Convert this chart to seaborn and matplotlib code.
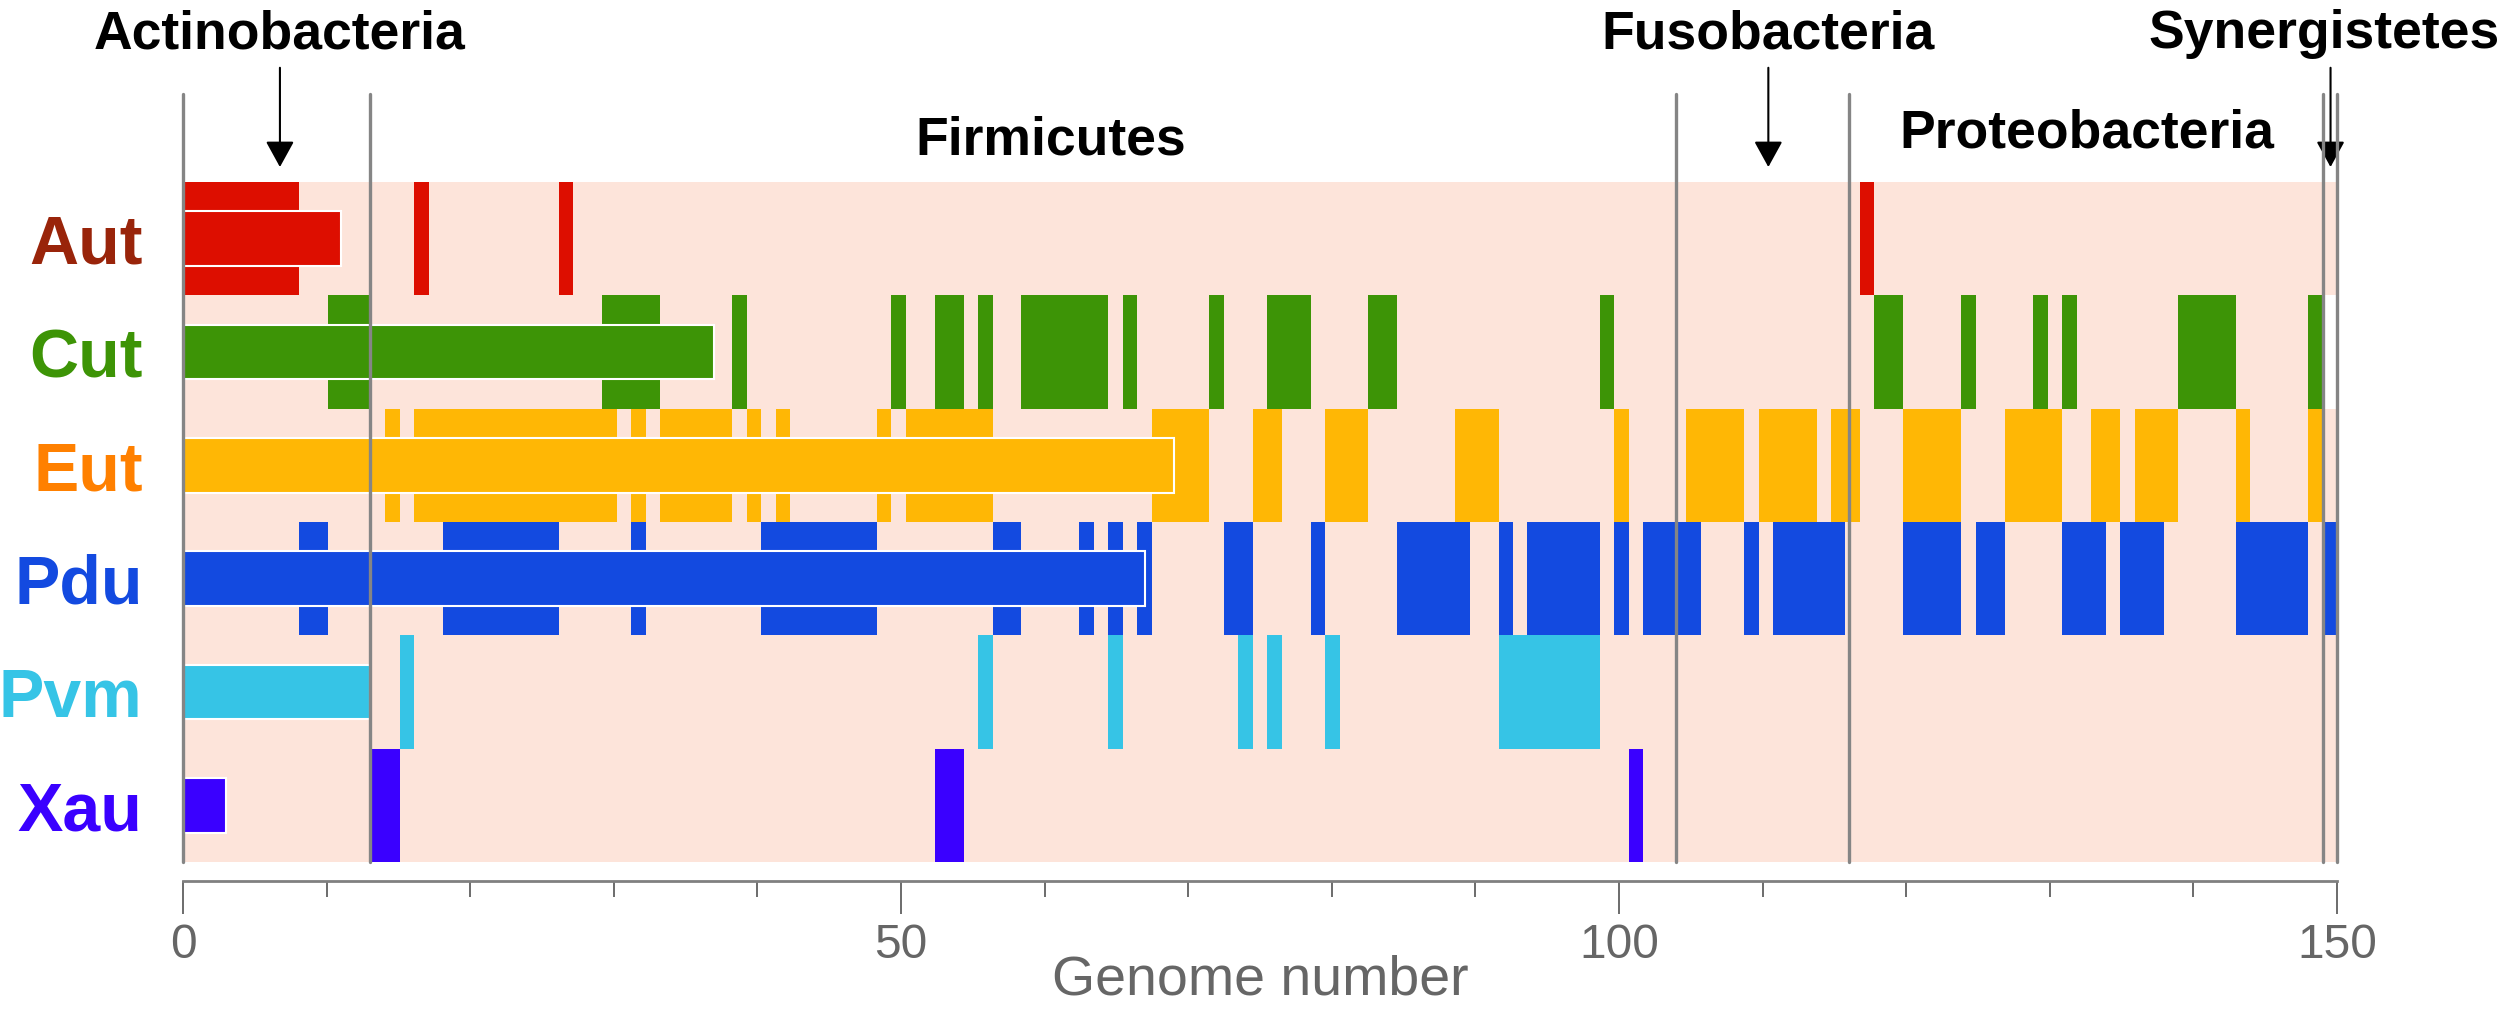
import matplotlib
matplotlib.use('Agg')
import numpy as np
import pandas as pd
import matplotlib.pyplot as plt
import seaborn as sns
from matplotlib.colors import ListedColormap
from matplotlib.ticker import MultipleLocator

# --- data ---------------------------------------------------------------
loci = ['Aut', 'Cut', 'Eut', 'Pdu', 'Pvm', 'Xau']
n_genomes = 149

# genome slots (0-based) where each locus is present
aut_genomes = [0, 1, 2, 3, 4, 5, 6, 7, 16, 26, 116]
cut_genomes = [10, 11, 12, 29, 30, 31, 32, 38, 49, 52, 53, 55, 58, 59, 60, 61,
               62, 63, 65, 71, 75, 76, 77, 82, 83, 98, 117, 118, 123, 128, 130,
               138, 139, 140, 141, 147]
eut_genomes = [14, 16, 17, 18, 19, 20, 21, 22, 23, 24, 25, 26, 27, 28, 29, 31,
               33, 34, 35, 36, 37, 39, 41, 48, 50, 51, 52, 53, 54, 55, 67, 68,
               69, 70, 74, 75, 79, 80, 81, 88, 89, 90, 99, 104, 105, 106, 107,
               109, 110, 111, 112, 114, 115, 119, 120, 121, 122, 126, 127, 128,
               129, 132, 133, 135, 136, 137, 142, 147]
pdu_genomes = [8, 9, 18, 19, 20, 21, 22, 23, 24, 25, 31, 40, 41, 42, 43, 44, 45,
               46, 47, 56, 57, 62, 64, 66, 72, 73, 78, 84, 85, 86, 87, 88, 91,
               93, 94, 95, 96, 97, 99, 101, 102, 103, 104, 108, 110, 111, 112,
               113, 114, 119, 120, 121, 122, 124, 125, 130, 131, 132, 134, 135,
               136, 142, 143, 144, 145, 146, 148]
pvm_genomes = [15, 55, 64, 73, 75, 79, 91, 92, 93, 94, 95, 96, 97]
xau_genomes = [13, 14, 52, 53, 100]
blank_cells = [('Cut', 148)]

# length of the outlined centre bar of each row (genome number axis)
core_len = [11, 37, 69, 67, 13, 3]

# phylum boundaries on the genome number axis
phylum_bounds = [0, 13, 104, 116, 149, 150]

bar_colors = ['#DD0E00', '#3D9406', '#FFB705', '#134AE0', '#36C4E6', '#3A00FF']
label_colors = ['#99240A', '#3D9406', '#FF8000', '#134AE0', '#36C4E6', '#3A00FF']
bg_color = '#FDE4DA'

# --- presence matrix ---------------------------------------------------
presence = [aut_genomes, cut_genomes, eut_genomes, pdu_genomes, pvm_genomes, xau_genomes]
mat = np.zeros((len(loci), n_genomes), dtype=int)
for i, g in enumerate(presence):
    mat[i, g] = i + 1
for name, g in blank_cells:
    mat[loci.index(name), g] = len(loci) + 1
df_presence = pd.DataFrame(mat, index=loci)

df_core = pd.DataFrame({'locus': loci, 'n': core_len})

sns.set_style('white')
plt.rcParams['font.family'] = ['Liberation Sans', 'DejaVu Sans']

fig = plt.figure(figsize=(25, 10.11), dpi=100)
rect = [183 / 2500, 149 / 1011, 2154 / 2500, 680 / 1011]
ax_hm = fig.add_axes(rect)
ax = fig.add_axes(rect, facecolor='none')

cmap = ListedColormap([bg_color] + bar_colors + ['white'])
sns.heatmap(df_presence, cmap=cmap, vmin=-0.5, vmax=len(loci) + 1.5, cbar=False,
            xticklabels=False, yticklabels=False, linewidths=0, ax=ax_hm)
ax_hm.axis('off')

# centre bars
sns.barplot(data=df_core, x='n', y='locus', hue='locus', palette=bar_colors,
            orient='h', width=0.48, saturation=1, edgecolor='white',
            linewidth=1.5, legend=False, ax=ax, zorder=3)
ax.set_xlim(0, 150)
ax.set_ylim(len(loci) - 0.5, -0.5)

# phylum boundaries
for b in phylum_bounds:
    ax.axvline(b, ymin=0, ymax=1.13, color='#858585', lw=2.4, clip_on=False, zorder=5)

# phylum names and arrows
trans = ax.get_xaxis_transform()
phyla = [('Actinobacteria', 6.75, 1.197), ('Firmicutes', 60.4, 1.040),
         ('Fusobacteria', 110.4, 1.197), ('Proteobacteria', 132.6, 1.05),
         ('Synergistetes', 149.1, 1.197)]
for name, xpos, ypos in phyla:
    ax.text(xpos, ypos, name, transform=trans, ha='center', va='baseline',
            fontsize=38.5, fontweight='bold', color='black', clip_on=False)
for xpos in [6.75, 110.4, 149.55]:
    ax.annotate('', xy=(xpos, 1.022), xytext=(xpos, 1.168), xycoords=trans,
                textcoords=trans, annotation_clip=False,
                arrowprops=dict(arrowstyle='-|>,head_length=0.4,head_width=0.22',
                                mutation_scale=40, lw=1.5, color='black',
                                shrinkA=0, shrinkB=0))

# axes styling
ax.set_xticks([0, 50, 100, 150])
ax.xaxis.set_minor_locator(MultipleLocator(10))
ax.tick_params(axis='x', which='major', bottom=True, direction='out', length=24,
               width=1.4, color='#6b6b6b', labelsize=34.5, labelcolor='#666666', pad=6.5)
ax.tick_params(axis='x', which='minor', bottom=True, direction='out', length=11.5,
               width=1.4, color='#6b6b6b')
ax.tick_params(axis='y', left=False, length=0, pad=29)
for lab, c in zip(ax.get_yticklabels(), label_colors):
    lab.set_color(c)
    lab.set_fontsize(49)
    lab.set_fontweight('bold')
ax.set_ylabel('')
ax.set_xlabel('Genome number', fontsize=40, color='#666666', labelpad=-10)

for s in ['top', 'right', 'left']:
    ax.spines[s].set_visible(False)
ax.spines['bottom'].set_position(('outward', 13.5))
ax.spines['bottom'].set_color('#808080')
ax.spines['bottom'].set_linewidth(2)

fig.savefig('out.png', dpi=100)
